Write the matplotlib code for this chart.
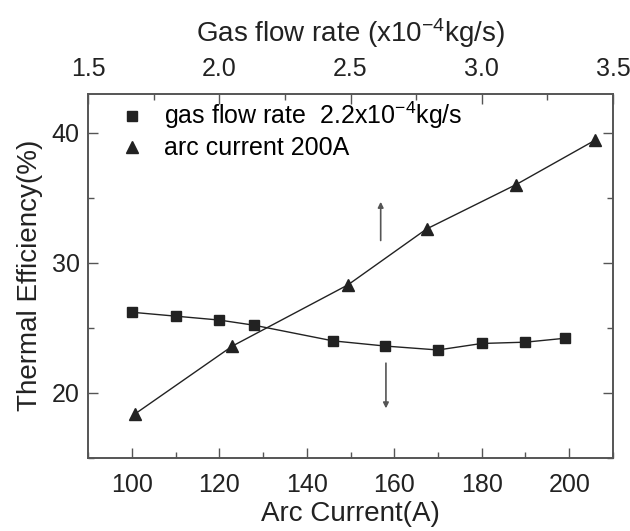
import matplotlib
matplotlib.use('Agg')
import matplotlib.pyplot as plt
from matplotlib.lines import Line2D
from matplotlib.ticker import MultipleLocator

plt.rcParams['font.family'] = ['Liberation Sans', 'DejaVu Sans']
plt.rcParams['mathtext.fontset'] = 'custom'
plt.rcParams['mathtext.rm'] = 'Liberation Sans'
plt.rcParams['mathtext.it'] = 'Liberation Sans'
plt.rcParams['mathtext.bf'] = 'Liberation Sans'

# =============================================================================
# Data
# =============================================================================
# arc current series (gas flow rate fixed at 2.2e-4 kg/s), bottom axis
arc_current = [100, 110, 120, 128, 146, 158, 170, 180, 190, 199]
eff_current = [26.2, 25.9, 25.6, 25.2, 24.0, 23.6, 23.3, 23.8, 23.9, 24.2]

# gas flow rate series (arc current fixed at 200 A), top axis
gas_flow = [1.68, 2.05, 2.49, 2.79, 3.13, 3.43]
eff_flow = [18.4, 23.6, 28.3, 32.6, 36.0, 39.4]

DARK = '#222222'
GREY = '#555555'

fig = plt.figure(figsize=(6.3, 5.31), dpi=100)
ax = fig.add_axes([0.1397, 0.1375, 0.8333, 0.6862])
ax2 = ax.twiny()

ax.plot(arc_current, eff_current, color=DARK, lw=1.0, marker='s',
        ms=6.5, mfc=DARK, mec=DARK)
ax2.plot(gas_flow, eff_flow, color=DARK, lw=1.0, marker='^',
         ms=8, mfc=DARK, mec=DARK)

ax.set_xlim(90, 210)
ax.set_ylim(15, 43)
ax2.set_xlim(1.5, 3.5)

ax.xaxis.set_major_locator(MultipleLocator(20))
ax.xaxis.set_minor_locator(MultipleLocator(10))
ax.yaxis.set_major_locator(MultipleLocator(10))
ax.yaxis.set_minor_locator(MultipleLocator(5))
ax2.xaxis.set_major_locator(MultipleLocator(0.5))
ax2.xaxis.set_minor_locator(MultipleLocator(0.25))
ax2.xaxis.set_major_formatter(plt.FormatStrFormatter('%.1f'))

for a in (ax, ax2):
    a.tick_params(which='both', direction='in', color=GREY, labelsize=18,
                  labelcolor='#222222')
    a.tick_params(which='major', length=7, width=1)
    a.tick_params(which='minor', length=4, width=1)
    for s in a.spines.values():
        s.set_color(GREY)
        s.set_linewidth(1.2)
ax.tick_params(axis='y', which='both', right=True, pad=6)
ax.tick_params(axis='x', pad=11)
ax2.tick_params(axis='x', pad=9)

ax.set_xlabel('Arc Current(A)', fontsize=20, color='#222222', labelpad=3)
ax.set_ylabel('Thermal Efficiency(%)', fontsize=20, color='#222222',
              labelpad=6)
ax2.set_xlabel('Gas flow rate (x10$^{-4}$kg/s)', fontsize=20,
               color='#222222', labelpad=11)

# arrows pointing to the relevant axis
ax.annotate('', xy=(156.9, 34.9), xytext=(156.9, 31.5),
            arrowprops=dict(arrowstyle='-|>', color=GREY, lw=1.2,
                            mutation_scale=8))
ax.annotate('', xy=(158.1, 18.6), xytext=(158.1, 22.5),
            arrowprops=dict(arrowstyle='-|>', color=GREY, lw=1.2,
                            mutation_scale=8))

handles = [
    Line2D([], [], ls='none', marker='s', ms=6.5, color=DARK,
           label='gas flow rate  2.2x10$^{-4}$kg/s'),
    Line2D([], [], ls='none', marker='^', ms=8, color=DARK,
           label='arc current 200A'),
]
ax.legend(handles=handles, loc='upper left', bbox_to_anchor=(0.045, 1.01),
          frameon=False, fontsize=18, handlelength=0.8, handletextpad=0.9,
          labelspacing=0.2, borderaxespad=0)

fig.savefig('out.png', dpi=100)
